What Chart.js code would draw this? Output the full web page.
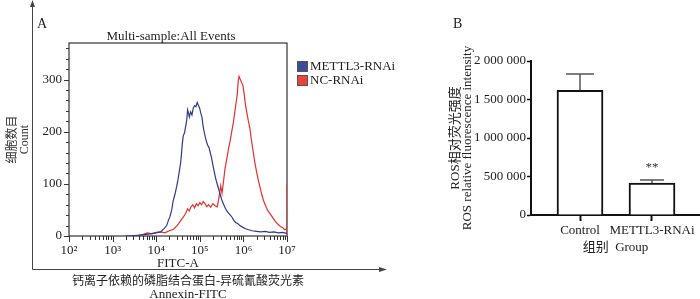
<!DOCTYPE html>
<html>
<head>
<meta charset="utf-8">
<script src="https://cdn.jsdelivr.net/npm/chart.js@4"></script>
<style>
  html, body { margin: 0; padding: 0; background: #fff; }
  #wrap { position: relative; width: 700px; height: 299px; overflow: hidden; }
  #histo { position: absolute; left: 0; top: 0; }
  #bars { position: absolute; left: 440px; top: 0; }
</style>
</head>
<body>
<div id="wrap">
  <canvas id="histo" width="450" height="299"></canvas>
  <canvas id="bars" width="260" height="299"></canvas>
</div>
<script>
// ---- panel A: flow histogram (x = log10 of FITC-A) ----
const blueLogFitc = [3.30, 3.50, 3.70, 3.85, 4.00, 4.10, 4.18, 4.24, 4.28, 4.32, 4.36, 4.39, 4.43, 4.47, 4.50, 4.53, 4.56, 4.58, 4.60, 4.62, 4.65, 4.68, 4.70, 4.72, 4.74, 4.76, 4.79, 4.82, 4.85, 4.88, 4.91, 4.94, 4.97, 5.00, 5.02, 5.05, 5.07, 5.09, 5.11, 5.13, 5.15, 5.18, 5.21, 5.24, 5.27, 5.30, 5.33, 5.36, 5.39, 5.42, 5.46, 5.50, 5.54, 5.58, 5.62, 5.66, 5.70, 5.74, 5.78, 5.82, 5.87, 5.92, 5.98, 6.05, 6.12, 6.20, 6.30, 6.40, 6.50, 6.60, 6.70, 6.80, 6.90, 7.00];
const blueCount = [0, 1, 2, 4, 6, 8, 14, 20, 30, 38, 52, 68, 80, 95, 108, 124, 140, 158, 178, 192, 198, 212, 222, 242, 236, 228, 238, 232, 245, 250, 248, 256, 250, 244, 236, 228, 214, 204, 196, 188, 182, 174, 170, 160, 150, 136, 124, 112, 102, 94, 82, 70, 62, 54, 48, 44, 40, 36, 30, 26, 24, 20, 17, 14, 12, 10, 9, 8, 9, 7, 8, 6, 7, 5];

const redLogFitc = [3.55, 3.70, 3.80, 3.90, 4.00, 4.10, 4.20, 4.30, 4.40, 4.48, 4.55, 4.62, 4.68, 4.72, 4.76, 4.80, 4.84, 4.88, 4.92, 4.96, 5.00, 5.04, 5.08, 5.12, 5.16, 5.20, 5.25, 5.30, 5.35, 5.40, 5.44, 5.48, 5.51, 5.54, 5.58, 5.62, 5.66, 5.70, 5.74, 5.77, 5.80, 5.83, 5.86, 5.88, 5.90, 5.93, 5.96, 5.99, 6.02, 6.05, 6.08, 6.11, 6.15, 6.18, 6.22, 6.26, 6.30, 6.34, 6.38, 6.42, 6.46, 6.50, 6.55, 6.60, 6.65, 6.70, 6.75, 6.80, 6.85, 6.90, 6.95, 7.00, 7.00, 7.00];
const redCount = [0, 3, 6, 4, 7, 8, 6, 10, 13, 20, 28, 36, 44, 52, 48, 56, 60, 54, 62, 58, 64, 60, 66, 62, 56, 60, 55, 62, 58, 56, 74, 96, 82, 102, 130, 148, 168, 184, 204, 218, 236, 254, 272, 296, 306, 300, 294, 288, 270, 250, 236, 222, 206, 186, 164, 142, 124, 108, 94, 80, 68, 60, 50, 44, 38, 32, 26, 22, 18, 16, 12, 14, 100, 0];

const seriesNames = ["METTL3-RNAi", "NC-RNAi"];
const decades = [2, 3, 4, 5, 6, 7];
const countTicks = [0, 100, 200, 300];

// ---- panel B: ROS bar chart ----
const groupLabels = ["Control", "METTL3-RNAi"];
const groupX = [0, 1];
const rosMean = [1620000, 415000];
const rosSd = [210000, 40000];
const sigMarks = ["", "**"];
const rosTicks = [0, 500000, 1000000, 1500000, 2000000];

const SERIF = "'Liberation Serif', 'Noto Sans CJK SC', serif";
const INK = "#222";
const sup = { 2: "\u00b2", 3: "\u00b3", 4: "\u2074", 5: "\u2075", 6: "\u2076", 7: "\u2077" };

const histoDecor = {
  id: "histoDecor",
  beforeDatasetsDraw(chart) {
    const { ctx, chartArea: a } = chart;
    ctx.save();
    ctx.strokeStyle = "#333";
    ctx.lineWidth = 1.2;
    ctx.strokeRect(a.left, a.top, a.right - a.left, a.bottom - a.top);
    ctx.restore();
  },
  afterDraw(chart) {
    const { ctx, chartArea: a, scales } = chart;
    const xs = scales.x, ys = scales.y;
    ctx.save();
    ctx.strokeStyle = "#333";
    ctx.lineWidth = 1;
    // y ticks: every 20, longer at labelled ones
    for (let v = 0; v <= 360; v += 20) {
      const py = Math.round(ys.getPixelForValue(v)) + 0.5;
      const len = v % 100 === 0 ? 5 : 3;
      ctx.beginPath(); ctx.moveTo(a.left - len, py); ctx.lineTo(a.left, py); ctx.stroke();
    }
    // x ticks: log minor ticks
    for (let n = 2; n <= 7; n++) {
      for (let k = 1; k <= 9; k++) {
        const v = n + Math.log10(k);
        if (v > 7) break;
        const px = Math.round(xs.getPixelForValue(v)) + 0.5;
        const len = k === 1 ? 6 : 4;
        ctx.beginPath(); ctx.moveTo(px, a.bottom); ctx.lineTo(px, a.bottom + len); ctx.stroke();
      }
    }
    // outer frame with arrows
    ctx.strokeStyle = "#444";
    ctx.beginPath();
    ctx.moveTo(32.5, 5); ctx.lineTo(32.5, 269.5); ctx.lineTo(380, 269.5);
    ctx.stroke();
    ctx.fillStyle = "#444";
    ctx.beginPath(); ctx.moveTo(32.5, 0); ctx.lineTo(30, 7); ctx.lineTo(35, 7); ctx.closePath(); ctx.fill();
    ctx.beginPath(); ctx.moveTo(387, 269.5); ctx.lineTo(379, 267); ctx.lineTo(379, 272); ctx.closePath(); ctx.fill();

    // texts
    ctx.fillStyle = INK;
    ctx.textBaseline = "middle";
    ctx.font = "14px " + SERIF;
    ctx.textAlign = "left";
    ctx.fillText("A", 37, 24);
    ctx.font = "13px " + SERIF;
    ctx.textAlign = "center";
    ctx.fillText("Multi-sample:All Events", 171, 37);
    ctx.font = "12px " + SERIF;
    ctx.fillText("钙离子依赖的磷脂结合蛋白-异硫氰酸荧光素", 188, 282);
    ctx.font = "13px " + SERIF;
    ctx.fillText("Annexin-FITC", 188, 295);

    // legend
    const colors = [["#3d4a9a", "#2e3a8c"], ["#e8443a", "#e8302c"]];
    ctx.textAlign = "left";
    seriesNames.forEach((name, i) => {
      const y = 61 + i * 14;
      ctx.fillStyle = colors[i][0];
      ctx.fillRect(297, y, 10, 10);
      ctx.strokeStyle = "#555";
      ctx.lineWidth = 1;
      ctx.strokeRect(297.5, y + 0.5, 10, 10);
      ctx.fillStyle = INK;
      ctx.fillText(name, 310, y + 5.5);
    });
    ctx.restore();
  }
};

new Chart(document.getElementById("histo"), {
  type: "line",
  data: {
    datasets: [
      {
        label: seriesNames[0],
        data: blueLogFitc.map((x, i) => ({ x, y: blueCount[i] })),
        borderColor: "#2e3a8c",
      },
      {
        label: seriesNames[1],
        data: redLogFitc.map((x, i) => ({ x, y: redCount[i] })),
        borderColor: "#e8302c",
      },
    ],
  },
  options: {
    responsive: false,
    animation: false,
    layout: { padding: { left: 0, top: 43, right: 163, bottom: 0 } },
    elements: { point: { radius: 0 }, line: { borderWidth: 1.2, tension: 0 } },
    plugins: { legend: { display: false }, tooltip: { enabled: false } },
    scales: {
      x: {
        type: "linear",
        min: 2,
        max: 7,
        afterFit: (s) => { s.height = 63; },
        afterBuildTicks: (s) => { s.ticks = decades.map((v) => ({ value: v })); },
        grid: { display: false, drawTicks: false },
        border: { display: false },
        ticks: {
          padding: 7,
          color: INK,
          maxRotation: 0,
          font: { family: SERIF, size: 13 },
          callback: (v) => "10" + sup[v],
        },
        title: {
          display: true,
          text: "FITC-A",
          color: INK,
          font: { family: SERIF, size: 13 },
          padding: { top: 0, bottom: 28 },
        },
      },
      y: {
        min: 0,
        max: 370,
        afterFit: (s) => { s.width = 69; },
        afterBuildTicks: (s) => { s.ticks = countTicks.map((v) => ({ value: v })); },
        grid: { display: false, drawTicks: false },
        border: { display: false },
        ticks: { padding: 7, color: INK, font: { family: SERIF, size: 13 } },
        title: {
          display: true,
          text: ["细胞数目", "Count"],
          color: "#333",
          font: { family: SERIF, size: 12, lineHeight: 1.0 },
          padding: { top: 7, bottom: 0 },
        },
      },
    },
  },
  plugins: [histoDecor],
});

const barDecor = {
  id: "barDecor",
  afterDatasetsDraw(chart) {
    const { ctx, scales } = chart;
    const xs = scales.x, ys = scales.y;
    ctx.save();
    ctx.strokeStyle = "#555";
    ctx.lineWidth = 1.5;
    groupX.forEach((gx, i) => {
      const px = xs.getPixelForValue(gx);
      const top = ys.getPixelForValue(rosMean[i] + rosSd[i]);
      const base = ys.getPixelForValue(rosMean[i]);
      const cap = i === 0 ? 14 : 12;
      ctx.beginPath();
      ctx.moveTo(px, base); ctx.lineTo(px, top);
      ctx.moveTo(px - cap, top); ctx.lineTo(px + cap, top);
      ctx.stroke();
      if (sigMarks[i]) {
        ctx.fillStyle = "#333";
        ctx.font = "13px " + SERIF;
        ctx.textAlign = "center";
        ctx.textBaseline = "middle";
        ctx.fillText(sigMarks[i], px, top - 12);
      }
    });
    ctx.fillStyle = INK;
    ctx.font = "14px " + SERIF;
    ctx.textAlign = "left";
    ctx.textBaseline = "middle";
    ctx.fillText("B", 13, 24);
    ctx.restore();
  }
};

new Chart(document.getElementById("bars"), {
  type: "bar",
  data: {
    datasets: [
      {
        data: groupX.map((x, i) => ({ x, y: rosMean[i] })),
        backgroundColor: "#fff",
        borderColor: "#111",
        borderWidth: 2,
        barThickness: 46,
      },
    ],
  },
  options: {
    responsive: false,
    animation: false,
    layout: { padding: { left: 0, top: 61, right: 0, bottom: 0 } },
    plugins: { legend: { display: false }, tooltip: { enabled: false } },
    scales: {
      x: {
        type: "linear",
        offset: false,
        min: -0.6806,
        max: 1.6667,
        afterFit: (s) => { s.height = 84; },
        afterBuildTicks: (s) => { s.ticks = groupX.map((v) => ({ value: v })); },
        grid: { display: true, offset: false, drawOnChartArea: false, drawTicks: true, tickLength: 6, tickColor: "#111", tickWidth: 2 },
        border: { display: true, color: "#111", width: 2 },
        ticks: {
          padding: 2,
          color: INK,
          autoSkip: false,
          maxRotation: 0,
          minRotation: 0,
          font: { family: SERIF, size: 13 },
          callback: (v) => groupLabels[v],
        },
        title: {
          display: true,
          text: "组别  Group",
          color: INK,
          font: { family: SERIF, size: 13 },
          padding: { top: 0, bottom: 44 },
        },
      },
      y: {
        min: 0,
        max: 2000000,
        afterFit: (s) => { s.width = 91; },
        afterBuildTicks: (s) => { s.ticks = rosTicks.map((v) => ({ value: v })); },
        grid: { display: true, drawOnChartArea: false, drawTicks: true, tickLength: 4, tickColor: "#111", tickWidth: 1.5 },
        border: { display: true, color: "#111", width: 2 },
        ticks: {
          padding: 1,
          color: INK,
          font: { family: SERIF, size: 13 },
          callback: (v) => String(v).replace(/\B(?=(\d{3})+(?!\d))/g, " "),
        },
        title: {
          display: true,
          text: ["ROS相对荧光强度", "ROS relative fluorescence intensity"],
          color: INK,
          font: { family: SERIF, size: 13, lineHeight: 0.92 },
          padding: { top: 10, bottom: 0 },
        },
      },
    },
  },
  plugins: [barDecor],
});
</script>
</body>
</html>
